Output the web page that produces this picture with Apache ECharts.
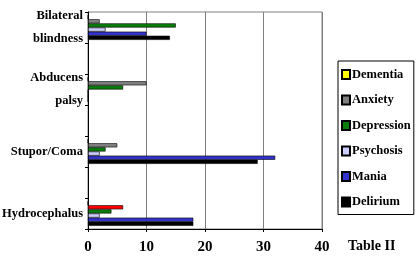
<!DOCTYPE html>
<html><head><meta charset="utf-8">
<script src="https://cdn.jsdelivr.net/npm/echarts@6/dist/echarts.min.js"></script>
<style>html,body{margin:0;padding:0;background:#fff}#c{width:420px;height:265px}</style>
</head><body><div id="c"></div>
<script>
const categories = ['Bilateral\nblindness', '', 'Abducens\npalsy', '', 'Stupor/Coma', '', 'Hydrocephalus'];
const seriesNames = ['Dementia', 'Anxiety', 'Depression', 'Psychosis', 'Mania', 'Delirium'];
const dementia   = [0, null, 0, null, 0, null, 0];
const anxiety    = [2, null, 10, null, 5, null, 6];
const depression = [15, null, 6, null, 3, null, 4];
const psychosis  = [3, null, 0, null, 2, null, 2];
const mania      = [10, null, 0, null, 32, null, 18];
const delirium   = [14, null, 0, null, 29, null, 18];
const xTicks = [0, 10, 20, 30, 40];
const values = [dementia, anxiety, depression, psychosis, mania, delirium];
const colors = ['#ffff00', '#808080', '#0a7d0a', '#ccccff', '#3333cc', '#000000'];
const highlight = {series: 1, index: 6, color: '#ff0000'};

const font = 'Liberation Serif';
const chart = echarts.init(document.getElementById('c'), null, {renderer: 'canvas'});
chart.setOption({
  animation: false,
  backgroundColor: '#fff',
  title: {text: 'Table II', left: 343, top: 234,
    textStyle: {fontFamily: font, fontWeight: 'bold', fontSize: 14, color: '#000'}},
  legend: {
    orient: 'vertical', left: 338, top: 61,
    data: seriesNames,
    itemWidth: 8, itemHeight: 9, itemGap: 12.5,
    padding: [7, 3, 6, 3],
    borderColor: '#000', borderWidth: 1, borderRadius: 0,
    icon: 'rect',
    textStyle: {fontFamily: font, fontWeight: 'bold', fontSize: 12.5, color: '#000', padding: [0, 0, 0, -3]}
  },
  grid: {left: 88, right: 98, top: 12, bottom: 36, show: true, borderColor: '#808080', borderWidth: 1,
    backgroundColor: '#fff', outerBoundsMode: 'none', containLabel: false},
  xAxis: {
    type: 'value', min: xTicks[0], max: xTicks[xTicks.length - 1], interval: 10,
    axisLine: {show: true, lineStyle: {color: '#000'}},
    axisTick: {show: true, length: 3, lineStyle: {color: '#000'}},
    splitLine: {show: true, lineStyle: {color: '#808080', width: 1}},
    axisLabel: {fontFamily: font, fontWeight: 'bold', fontSize: 15, color: '#000', margin: 11}
  },
  yAxis: {
    type: 'category', inverse: true, data: categories,
    axisLine: {show: true, lineStyle: {color: '#000'}},
    axisTick: {show: true, length: 3, lineStyle: {color: '#000'}},
    axisLabel: {interval: 0, fontFamily: font, fontWeight: 'bold', fontSize: 12.5, color: '#000',
      lineHeight: 23, margin: 5, padding: [6, 0, 0, 0]}
  },
  series: seriesNames.map((name, i) => ({
    name: name, type: 'bar',
    barGap: '0%', barCategoryGap: '20%',
    itemStyle: {color: colors[i], borderColor: '#000', borderWidth: 0.6},
    data: values[i].map((v, j) => (i === highlight.series && j === highlight.index)
      ? {value: v, itemStyle: {color: highlight.color}} : v)
  }))
});
</script></body></html>
